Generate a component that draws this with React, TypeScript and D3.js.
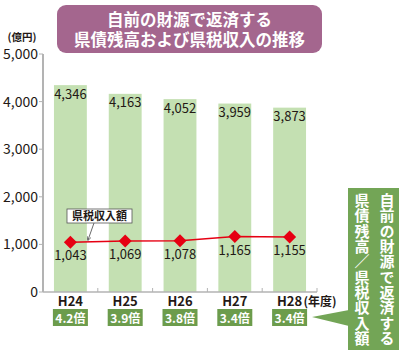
import React from "react";
import * as d3 from "d3";

const categories = ["H24", "H25", "H26", "H27", "H28"];
const debtValues = [4346, 4163, 4052, 3959, 3873];
const taxValues = [1043, 1069, 1078, 1165, 1155];
const ratioLabels = ["4.2倍", "3.9倍", "3.8倍", "3.4倍", "3.4倍"];
const yTicks = [0, 1000, 2000, 3000, 4000, 5000];
const titleLines = ["自前の財源で返済する", "県債残高および県税収入の推移"];
const calloutCols = ["自前の財源で返済する", "県債残高／県税収入額"];

const FONT = "'Noto Sans CJK JP', 'Noto Sans', sans-serif";

export default function App() {
  const W = 400, H = 364;
  const x = d3.scaleBand<string>().domain(categories).range([43, 317]).paddingInner(0.4).paddingOuter(0.2);
  const y = d3.scaleLinear().domain([0, 5000]).range([292, 54]);
  const fmt = d3.format(",");
  const bw = x.bandwidth();
  const cx = (c: string) => (x(c) as number) + bw / 2;
  const line = d3.line<number>().x((_, i) => cx(categories[i])).y((d) => y(d));
  const step = x.step();
  const boundaries = d3.range(1, categories.length + 1).map((i) => 43 + step * i);

  return (
    <svg width={W} height={H} style={{ position: "absolute", left: 0, top: 0, fontFamily: FONT }}>
      <rect width={W} height={H} fill="#fff" />
      {/* title */}
      <rect x={57} y={5} width={265} height={48} rx={9} fill="#a4668e" />
      <text textAnchor="middle" fill="#fff" fontSize={16.5} fontWeight={700}>
        {titleLines.map((t, i) => (
          <tspan key={i} x={189.5} y={26 + i * 20}>{t}</tspan>
        ))}
      </text>
      {/* bars */}
      {debtValues.map((v, i) => (
        <rect key={i} x={x(categories[i])} y={y(v)} width={bw} height={y(0) - y(v)} fill="#c4e0b2" />
      ))}
      {debtValues.map((v, i) => (
        <text key={"bl" + i} x={cx(categories[i])} y={y(v) + 13.5} textAnchor="middle" fontSize={13} fill="#231815">{fmt(v)}</text>
      ))}
      {/* y axis */}
      <line x1={43} x2={43} y1={y(5000)} y2={y(0)} stroke="#b3b3b3" strokeWidth={2} />
      {yTicks.map((t) => (
        <g key={t}>
          <line x1={39} x2={43} y1={y(t)} y2={y(t)} stroke="#b3b3b3" strokeWidth={1} />
          <text x={38} y={y(t) + 5} textAnchor="end" fontSize={14} fill="#231815">{fmt(t)}</text>
        </g>
      ))}
      <text x={22} y={41} textAnchor="middle" fontSize={10.5} fontWeight={700} fill="#231815">(億円)</text>
      {/* x axis */}
      <line x1={43} x2={317} y1={y(0)} y2={y(0)} stroke="#b3b3b3" strokeWidth={1.5} />
      {boundaries.map((b, i) => (
        <line key={i} x1={b} x2={b} y1={y(0)} y2={y(0) - 4} stroke="#b3b3b3" strokeWidth={1} />
      ))}
      {categories.map((c) => (
        <text key={c} x={cx(c)} y={306} textAnchor="middle" fontSize={13} fontWeight={700} fill="#231815">{c}</text>
      ))}
      <text x={320} y={306} textAnchor="middle" fontSize={12} fontWeight={700} fill="#231815">(年度)</text>
      {/* ratio boxes */}
      {ratioLabels.map((r, i) => (
        <g key={r + i}>
          <rect x={cx(categories[i]) - 17.5} y={309} width={35} height={17} fill="#6c9c4c" />
          <text x={cx(categories[i])} y={322.5} textAnchor="middle" fontSize={12} fontWeight={700} fill="#fff">{r}</text>
        </g>
      ))}
      {/* tax line */}
      <path d={line(taxValues) || ""} fill="none" stroke="#e60012" strokeWidth={1.5} />
      {taxValues.map((v, i) => {
        const px = cx(categories[i]), py = y(v);
        return (
          <g key={"p" + i}>
            <path d={`M${px},${py - 6.5}L${px + 6.5},${py}L${px},${py + 6.5}L${px - 6.5},${py}Z`} fill="#e60012" />
            <text x={px} y={py + 18} textAnchor="middle" fontSize={13} fill="#231815">{fmt(v)}</text>
          </g>
        );
      })}
      {/* annotation */}
      <defs>
        <marker id="arr" viewBox="0 0 6 6" refX="5" refY="3" markerWidth="5" markerHeight="5" orient="auto">
          <path d="M0,0L6,3L0,6" fill="none" stroke="#444" strokeWidth={1} />
        </marker>
      </defs>
      <line x1={94} x2={88} y1={223} y2={240} stroke="#444" strokeWidth={0.8} markerEnd="url(#arr)" />
      <rect x={67} y={209} width={65} height={14} fill="#fff" stroke="#555" strokeWidth={0.8} />
      <text x={99.5} y={220} textAnchor="middle" fontSize={11} fontWeight={700} fill="#231815">県税収入額</text>
      {/* callout */}
      <path d="M312,317 L349,310 L349,326 Z" fill="#73a556" />
      <rect x={348} y={188} width={51} height={162} fill="#73a556" />
      {calloutCols.map((col, ci) => (
        <text key={ci} x={ci === 0 ? 387 : 362} y={193} fontSize={15} fontWeight={700} fill="#fff"
          style={{ writingMode: "vertical-rl", textOrientation: "upright", letterSpacing: "0.3px" }}>{col}</text>
      ))}
    </svg>
  );
}
